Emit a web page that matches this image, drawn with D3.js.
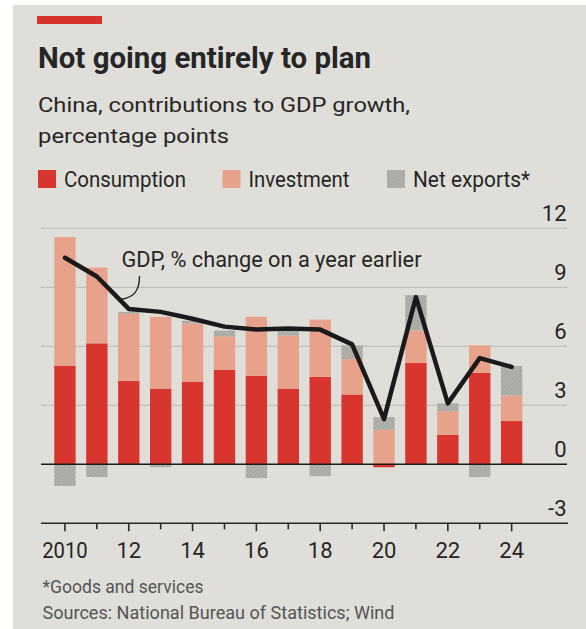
<!DOCTYPE html>
<html>
<head>
<meta charset="utf-8">
<script src="https://cdn.jsdelivr.net/npm/d3@7"></script>
<style>
  body { margin: 0; background: #fff; }
  text { font-family: Roboto, "Noto Sans", sans-serif; fill: #262626; }
</style>
</head>
<body>
<script>
// values, percentage points
var years = [2010, 2011, 2012, 2013, 2014, 2015, 2016, 2017, 2018, 2019, 2020, 2021, 2022, 2023, 2024];
var consumption = [5.0, 6.15, 4.25, 3.85, 4.2, 4.8, 4.5, 3.85, 4.45, 3.55, -0.15, 5.15, 1.5, 4.65, 2.2];
var investment = [6.55, 3.85, 3.4, 3.65, 2.95, 1.7, 3.0, 2.7, 2.9, 1.8, 1.75, 1.65, 1.2, 1.4, 1.3];
var netExports = [-1.1, -0.65, 0.1, -0.15, 0.15, 0.3, -0.7, 0.25, -0.6, 0.7, 0.65, 1.8, 0.4, -0.65, 1.5];
var gdp = [10.5, 9.55, 7.9, 7.75, 7.4, 7.0, 6.85, 6.9, 6.85, 6.1, 2.3, 8.5, 3.1, 5.4, 4.95];
var yTicks = [-3, 0, 3, 6, 9, 12];
var xTickLabels = {2010: "2010", 2012: "12", 2014: "14", 2016: "16", 2018: "18", 2020: "20", 2022: "22", 2024: "24"};
var seriesNames = ["Consumption", "Investment", "Net exports*"];

var width = 586, height = 629;
var colors = {"Consumption": "#d8352f", "Investment": "#e8a18b", "Net exports*": "url(#hatch)"};

var svg = d3.select("body").append("svg")
  .attr("width", width)
  .attr("height", height)

var defs = svg.append("defs")
var pat = defs.append("pattern")
  .attr("id", "hatch")
  .attr("patternUnits", "userSpaceOnUse")
  .attr("width", 3)
  .attr("height", 3)
  .attr("patternTransform", "rotate(45)")
pat.append("rect").attr("width", 3).attr("height", 3).attr("fill", "#b2b1ab")
pat.append("line").attr("x1", 0).attr("y1", 0).attr("x2", 0).attr("y2", 3)
  .attr("stroke", "#979691").attr("stroke-width", 1)

// paper
svg.append("rect")
  .attr("x", 13).attr("y", 5)
  .attr("width", width - 13).attr("height", height - 5)
  .attr("fill", "#dfded9")

svg.append("rect")
  .attr("x", 37).attr("y", 16)
  .attr("width", 65).attr("height", 8)
  .attr("fill", "#d6332d")

var fit = function(sel, w) {
  sel.attr("textLength", w).attr("lengthAdjust", "spacingAndGlyphs")
}

svg.append("text").attr("x", 38).attr("y", 67.5)
  .style("font-size", "29px").style("font-weight", "bold")
  .text("Not going entirely to plan").call(fit, 333)
svg.append("text").attr("x", 38).attr("y", 111.5)
  .style("font-size", "21px")
  .text("China, contributions to GDP growth,").call(fit, 372)
svg.append("text").attr("x", 38).attr("y", 143)
  .style("font-size", "21px")
  .text("percentage points").call(fit, 191)

// legend
var legX = [38, 222.5, 387];
var legW = [122, 101, 117];
var leg = svg.selectAll(".leg")
  .data(seriesNames)
  .enter()
  .append("g")
  .attr("class", "leg")
  .attr("transform", function(d, i) { return "translate(" + legX[i] + ",170)"; })
leg.append("rect")
  .attr("width", 18).attr("height", 18)
  .attr("fill", function(d) { return colors[d]; })
leg.append("text")
  .attr("x", 26).attr("y", 17)
  .style("font-size", "22px")
  .text(function(d) { return d; })
  .each(function(d, i) { d3.select(this).call(fit, legW[i]); })

// scales
var x = d3.scaleBand()
  .domain(years)
  .range([49, 527.6])
  .paddingInner(0.33)
  .paddingOuter(0.165)
var y = d3.scaleLinear()
  .domain([-3, 12])
  .range([523.3, 228.3])
var cx = function(yr) { return x(yr) + x.bandwidth() / 2; };

// grid
var gridL = 41, gridR = 567;
svg.append("g").selectAll("line")
  .data(yTicks.filter(function(t) { return t > 0; }))
  .enter()
  .append("line")
  .attr("x1", gridL).attr("x2", gridR)
  .attr("y1", function(d) { return y(d); })
  .attr("y2", function(d) { return y(d); })
  .attr("stroke", "#b7b6b1")
  .attr("stroke-width", 0.9)

svg.append("g").selectAll("text")
  .data(yTicks)
  .enter()
  .append("text")
  .attr("x", 566.5)
  .attr("y", function(d) { return y(d) - 7.5; })
  .attr("text-anchor", "end")
  .style("font-size", "22px")
  .text(function(d) { return d; })

// stacked bars
var table = years.map(function(yr, i) {
  return {year: yr, "Consumption": consumption[i], "Investment": investment[i], "Net exports*": netExports[i]};
})
var stacked = d3.stack()
  .keys(seriesNames)
  .offset(d3.stackOffsetDiverging)(table)

svg.append("g").selectAll("g")
  .data(stacked)
  .enter()
  .append("g")
  .attr("fill", function(d) { return colors[d.key]; })
  .selectAll("rect")
  .data(function(d) { return d; })
  .enter()
  .append("rect")
  .attr("x", function(d) { return x(d.data.year); })
  .attr("width", x.bandwidth())
  .attr("y", function(d) { return y(Math.max(d[0], d[1])); })
  .attr("height", function(d) { return Math.abs(y(d[0]) - y(d[1])); })

// zero line
svg.append("line")
  .attr("x1", gridL).attr("x2", gridR)
  .attr("y1", y(0)).attr("y2", y(0))
  .attr("stroke", "#1a1a1a")
  .attr("stroke-width", 1.4)

// x axis at -3
var xAxis = svg.append("g")
  .attr("transform", "translate(0," + y(-3) + ")")
xAxis.append("line")
  .attr("x1", gridL).attr("x2", 568)
  .attr("stroke", "#2a2a2a")
  .attr("stroke-width", 1.6)
xAxis.selectAll(".tick")
  .data(years)
  .enter()
  .append("line")
  .attr("x1", cx).attr("x2", cx)
  .attr("y1", 0)
  .attr("y2", function(d) { return xTickLabels[d] ? 8 : 6; })
  .attr("stroke", "#2a2a2a")
  .attr("stroke-width", 1.6)
xAxis.selectAll("text")
  .data(years.filter(function(d) { return xTickLabels[d]; }))
  .enter()
  .append("text")
  .attr("x", cx)
  .attr("y", 35)
  .attr("text-anchor", "middle")
  .style("font-size", "22px")
  .text(function(d) { return xTickLabels[d]; })
  .each(function(d) { if (d == 2010) d3.select(this).call(fit, 45.5); })

// GDP line
var line = d3.line()
  .x(function(d, i) { return cx(years[i]); })
  .y(function(d) { return y(d); })
  .curve(d3.curveLinear)
svg.append("path")
  .datum(gdp)
  .attr("d", line)
  .attr("fill", "none")
  .attr("stroke", "#1a1a1a")
  .attr("stroke-width", 4.5)
  .attr("stroke-linejoin", "round")
  .attr("stroke-linecap", "round")

// annotation
svg.append("text").attr("x", 121.5).attr("y", 267)
  .style("font-size", "22px")
  .text("GDP, % change on a year earlier").call(fit, 300)
svg.append("path")
  .attr("d", "M139.5,276 C139.5,292 133,298 120,299.5")
  .attr("fill", "none")
  .attr("stroke", "#1a1a1a")
  .attr("stroke-width", 1.3)

// notes
svg.append("text").attr("x", 42.5).attr("y", 593)
  .style("font-size", "18px").style("fill", "#555")
  .text("*Goods and services").call(fit, 161)
svg.append("text").attr("x", 42.5).attr("y", 619)
  .style("font-size", "18px").style("fill", "#555")
  .text("Sources: National Bureau of Statistics; Wind").call(fit, 352)
</script>
</body>
</html>
